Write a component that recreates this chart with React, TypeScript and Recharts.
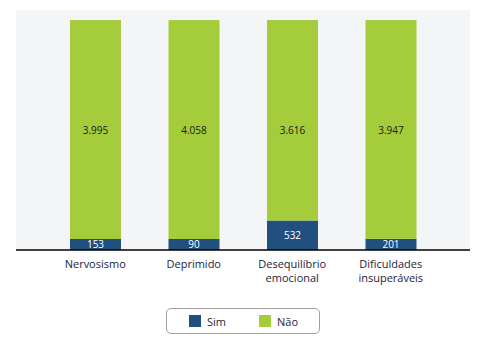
import { BarChart, Bar, XAxis, YAxis, CartesianGrid, Legend, LabelList } from 'recharts';

const categories = ['Nervosismo', 'Deprimido', 'Desequilíbrio\nemocional', 'Dificuldades\ninsuperáveis'];
const sim = [153, 90, 532, 201];
const nao = [3995, 4058, 3616, 3947];

const data = categories.map((name, i) => ({ name, sim: sim[i], nao: nao[i] }));

const FONT = '"Open Sans", "DejaVu Sans", sans-serif';
const BLUE = '#22507e';
const GREEN = '#a4cc3b';
const MIN_SIM = 11; // small segments are drawn taller so the label fits

const fmt = (v: number) => v.toLocaleString('de-DE');

const CategoryTick = (props: any) => {
    const { x, y, payload } = props;
    const lines = String(payload.value).split('\n');
    return (
        <text x={x} y={y} textAnchor="middle" fontFamily={FONT} fontSize={11} fill="#1d1d3b">
            {lines.map((l, i) => (
                <tspan key={i} x={x} dy={i === 0 ? 10 : 14}>{l}</tspan>
            ))}
        </text>
    );
};

const SimShape = (props: any) => {
    const { x, y, width, height } = props;
    const h = Math.max(height, MIN_SIM);
    return <rect x={x} y={y + height - h} width={width} height={h} fill={BLUE} />;
};

const NaoShape = (props: any) => {
    const { x, y, width, height, index } = props;
    const simH = height * sim[index] / nao[index];
    const extra = Math.max(0, MIN_SIM - simH);
    return <rect x={x} y={y} width={width} height={height - extra} fill={GREEN} />;
};

const NaoLabel = (props: any) => {
    const { x, y, width, height, value, index } = props;
    // centre of the whole stacked bar
    const full = height * (value + sim[index]) / value;
    return (
        <text x={x + width / 2} y={y + full / 2 - 4} textAnchor="middle" dominantBaseline="middle"
            fontFamily={FONT} fontSize={10} fill="#1a1a1a">
            {fmt(value)}
        </text>
    );
};

const SimLabel = (props: any) => {
    const { x, y, width, height, value } = props;
    const h = Math.max(height, MIN_SIM);
    return (
        <text x={x + width / 2} y={y + height - h / 2 + 1} textAnchor="middle" dominantBaseline="middle"
            fontFamily={FONT} fontSize={10} fill="#ffffff">
            {fmt(value)}
        </text>
    );
};

const LegendBox = () => (
    <div style={{ display: 'flex', justifyContent: 'center' }}>
        <div style={{
            width: 152, height: 24, border: '1px solid #a0a0a0', borderRadius: 5,
            display: 'flex', alignItems: 'center', boxSizing: 'content-box',
            fontFamily: FONT, fontSize: 11, color: '#1d1d3b',
        }}>
            <span style={{ width: 12, height: 12, background: BLUE, marginLeft: 22, marginRight: 6 }} />
            <span>Sim</span>
            <span style={{ width: 12, height: 12, background: GREEN, marginLeft: 33, marginRight: 6 }} />
            <span>Não</span>
        </div>
    </div>
);

export default function App() {
    return (
        <div style={{ position: 'absolute', left: 0, top: 0, width: 482, height: 344, background: '#fff' }}>
            <BarChart width={482} height={344} data={data} margin={{ top: 10, right: 12, left: 16, bottom: 10 }}>
                <CartesianGrid fill="#f4f5f7" horizontal={false} vertical={false} />
                <XAxis
                    dataKey="name"
                    height={58}
                    padding={{ left: 30, right: 30 }}
                    axisLine={{ stroke: '#000', strokeWidth: 1.5 }}
                    tickLine={false}
                    tick={<CategoryTick />}
                    interval={0}
                />
                <YAxis hide domain={[0, 4330]} />
                <Legend verticalAlign="bottom" content={<LegendBox />} />
                <Bar dataKey="sim" stackId="a" fill={BLUE} barSize={51} shape={<SimShape />} isAnimationActive={false}>
                    <LabelList dataKey="sim" content={<SimLabel />} />
                </Bar>
                <Bar dataKey="nao" stackId="a" fill={GREEN} barSize={51} shape={<NaoShape />} isAnimationActive={false}>
                    <LabelList dataKey="nao" content={<NaoLabel />} />
                </Bar>
            </BarChart>
        </div>
    );
}
